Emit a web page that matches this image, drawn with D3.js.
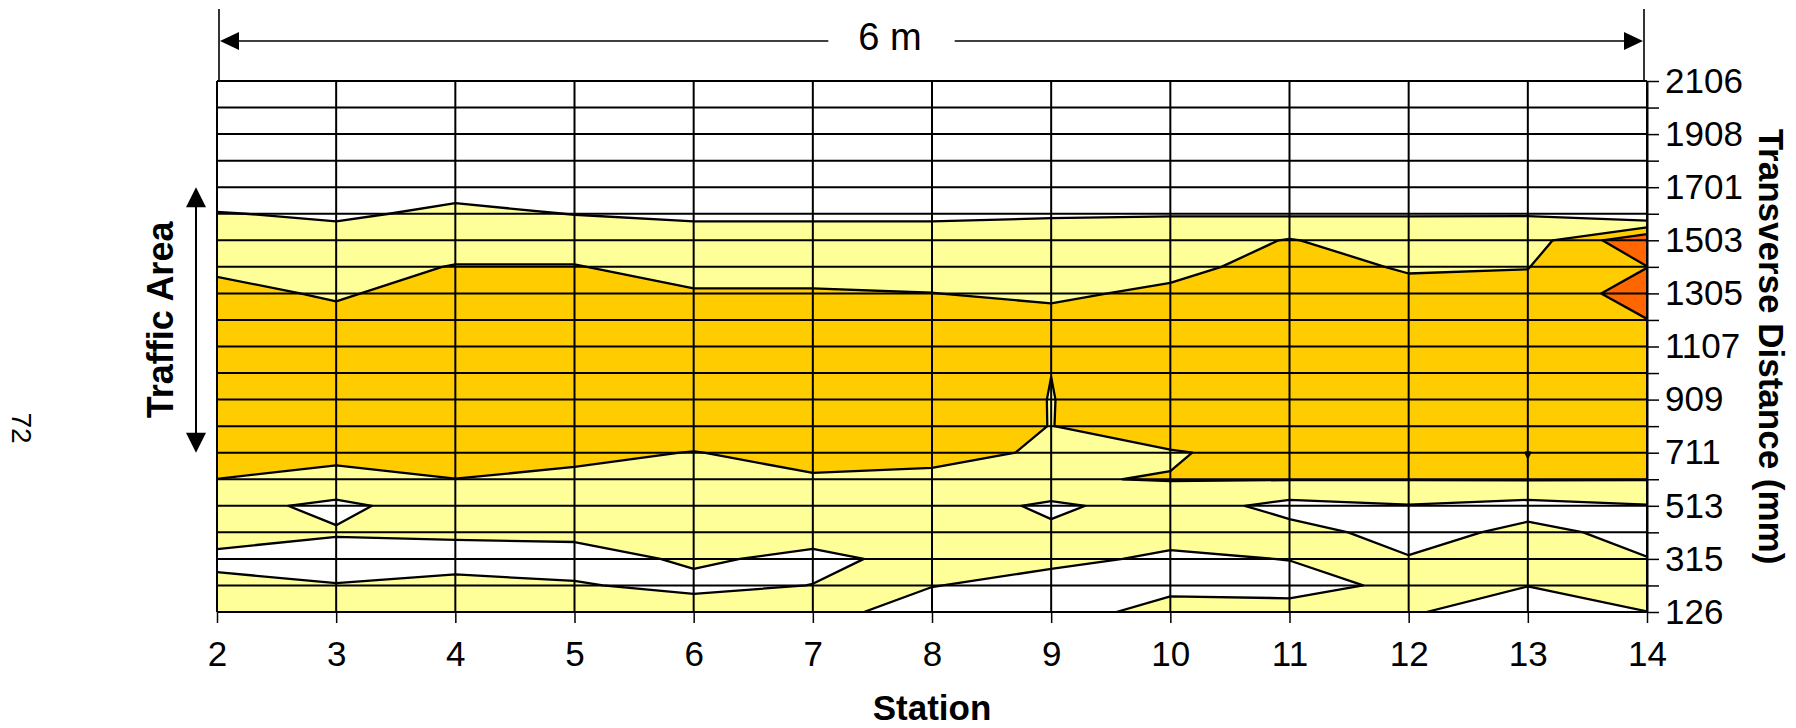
<!DOCTYPE html>
<html>
<head>
<meta charset="utf-8">
<script src="https://cdn.jsdelivr.net/npm/d3@7"></script>
<style>
  body { margin: 0; background: #fff; }
  svg { display: block; }
  text { font-family: "Liberation Sans", Arial, sans-serif; fill: #000; }
</style>
</head>
<body>
<svg id="chart" width="1796" height="728"></svg>
<script>
// Stations along the road (x) and the transverse offset labels (every other row)
const stations = [2, 3, 4, 5, 6, 7, 8, 9, 10, 11, 12, 13, 14];
const transverseLabels = ['126', '315', '513', '711', '909', '1107', '1305', '1503', '1701', '1908', '2106'];
const trafficArea = ['711', '1701'];

// Surface values for each station, listed from 126 mm (first) up to 2106 mm (last)
const st2  = [1.4, 1.3, 0.7, 1.51, 1.4, 1.99, 2.6, 2.5, 2.5, 2.5, 2.5, 2.5, 2.3, 1.82, 1.5, 1.05, 0.3, 0.2, 0.2, 0.2, 0.2];
const st3  = [1.4, 1.05, 0.5, 1.1, 0.73, 1.9, 2.09, 2.6, 2.5, 2.5, 2.5, 2.3, 1.87, 1.6, 1.4, 0.84, 0.3, 0.2, 0.2, 0.2, 0.2];
const st4  = [1.4, 1.2, 0.72, 1.11, 1.63, 1.99, 2.5, 2.5, 2.5, 2.5, 2.5, 2.5, 2.5, 2.05, 1.5, 1.2, 0.7, 0.2, 0.2, 0.2, 0.2];
const st5  = [1.4, 1.1, 0.51, 1.28, 1.6, 1.8, 2.23, 2.6, 2.5, 2.5, 2.5, 2.5, 2.5, 2.05, 1.5, 0.98, 0.3, 0.2, 0.2, 0.2, 0.2];
const st6  = [1.7, 0.68, 1.19, 1.5, 1.6, 1.8, 1.97, 2.6, 2.5, 2.5, 2.5, 2.5, 2.1, 1.57, 1.4, 0.84, 0.3, 0.2, 0.2, 0.2, 0.2];
const st7  = [1.6, 1.02, 0.7, 1.5, 1.6, 1.9, 2.32, 2.6, 2.5, 2.5, 2.5, 2.5, 2.1, 1.57, 1.4, 0.84, 0.3, 0.2, 0.2, 0.2, 0.2];
const st8  = [0.2, 1.05, 1.4, 1.6, 1.6, 1.74, 2.35, 2.6, 2.8, 2.5, 2.5, 2.5, 2.01, 1.6, 1.4, 0.84, 0.3, 0.2, 0.2, 0.2, 0.2];
const st9  = [0.3, 0.5, 1.3, 1.2, 0.8, 1.94, 1.85, 1.98, 1.97, 2.005, 2.5, 2.3, 1.82, 1.6, 1.4, 0.92, 0.3, 0.2, 0.2, 0.2, 0.2];
const st10 = [1.58, 0.6, 0.8, 1.4, 1.5, 2.04, 1.91, 2.7, 2.8, 2.5, 2.5, 2.5, 2.2, 1.7, 1.4, 0.956, 0.3, 0.2, 0.2, 0.2, 0.2];
const st11 = [1.5, 0.53, 1.03, 1.3, 0.7, 2.04, 2.4, 2.5, 2.5, 2.5, 2.5, 2.5, 2.5, 2.4, 2.06, 0.88, 0.3, 0.2, 0.2, 0.2, 0.2];
const st12 = [1.1, 1.29, 1.05, 0.69, 0.95, 2.04, 2.5, 2.5, 2.5, 2.5, 2.5, 2.5, 2.3, 1.9, 1.4, 0.956, 0.3, 0.2, 0.2, 0.2, 0.2];
const st13 = [0.43, 1.02, 1.4, 1.2, 0.7, 2.05, 1.99, 2.5, 2.5, 2.5, 2.5, 2.5, 2.2, 1.98, 1.5, 0.95, 0.3, 0.2, 0.2, 0.2, 0.2];
const st14 = [0.99, 1.4, 1.02, 0.77, 0.95, 2.03, 2.5, 2.5, 2.5, 2.5, 2.5, 2.98, 3.5, 2.98, 3.9, 0.0, 0.2, 0.2, 0.2, 0.2, 0.2];

// Band boundaries and fills
const bandLevels = [1, 2, 3];
const bandColors = ['#FFFF99', '#FFCC00', '#FF6600'];

const columns = [st2, st3, st4, st5, st6, st7, st8, st9, st10, st11, st12, st13, st14];
const nx = columns.length;
const ny = columns[0].length;

const svg = d3.select('#chart');
const plot = { left: 217, right: 1647, top: 81, bottom: 612 };

const x = d3.scaleLinear().domain([stations[0], stations[nx - 1]]).range([plot.left, plot.right]);
const y = d3.scaleLinear().domain([0, ny - 1]).range([plot.bottom, plot.top]);
const labelRow = lbl => transverseLabels.indexOf(lbl) * 2;

// Grid in row-major order, first row = top of the chart
const grid = new Array(nx * ny);
for (let j = 0; j < ny; j++) {
  for (let i = 0; i < nx; i++) grid[j * nx + i] = columns[i][ny - 1 - j];
}

const bands = d3.contours().size([nx, ny]).thresholds(bandLevels)(grid);
const toScreen = d3.geoTransform({
  point(px, py) {
    this.stream.point(x(stations[0] + px - 0.5), y(ny - 1 - (py - 0.5)));
  }
});
const path = d3.geoPath(toScreen);

svg.append('clipPath').attr('id', 'plot-clip')
  .append('rect')
  .attr('x', plot.left).attr('y', plot.top)
  .attr('width', plot.right - plot.left).attr('height', plot.bottom - plot.top);

const surface = svg.append('g').attr('clip-path', 'url(#plot-clip)');
surface.selectAll('path.band')
  .data(bands)
  .join('path')
  .attr('class', 'band')
  .attr('d', path)
  .attr('fill', (d, i) => bandColors[i])
  .attr('stroke', '#000')
  .attr('stroke-width', 2.3)
  .attr('stroke-linejoin', 'round');

// Gridlines
const gridG = svg.append('g').attr('stroke', '#000').attr('stroke-width', 2);
gridG.selectAll('line.h')
  .data(d3.range(ny))
  .join('line')
  .attr('x1', x(stations[0])).attr('x2', x(stations[nx - 1]))
  .attr('y1', d => y(d)).attr('y2', d => y(d));
gridG.selectAll('line.v')
  .data(stations)
  .join('line')
  .attr('x1', d => x(d)).attr('x2', d => x(d))
  .attr('y1', y(0)).attr('y2', y(ny - 1));

// Station axis
const xAxis = svg.append('g')
  .attr('transform', `translate(0,${plot.bottom})`)
  .call(d3.axisBottom(x).tickValues(stations).tickSize(11).tickSizeOuter(0).tickPadding(18).tickFormat(d3.format('d')));
xAxis.select('.domain').remove();
xAxis.selectAll('line').attr('stroke', '#000').attr('stroke-width', 1.5);
xAxis.selectAll('text').attr('font-size', 35).attr('font-family', '"Liberation Sans", Arial, sans-serif');

// Transverse distance axis on the right
const yAxis = svg.append('g')
  .attr('transform', `translate(${plot.right},0)`)
  .call(d3.axisRight(y).tickValues(d3.range(ny)).tickSize(12).tickSizeOuter(0).tickPadding(6)
    .tickFormat(i => (i % 2 === 0 ? transverseLabels[i / 2] : '')));
yAxis.select('.domain').attr('stroke', '#000').attr('stroke-width', 2);
yAxis.selectAll('line').attr('stroke', '#000').attr('stroke-width', 1.5);
yAxis.selectAll('text').attr('font-size', 35).attr('font-family', '"Liberation Sans", Arial, sans-serif');

// Axis titles
svg.append('text')
  .attr('x', (plot.left + plot.right) / 2).attr('y', 720)
  .attr('text-anchor', 'middle')
  .attr('font-size', 35).attr('font-weight', 'bold')
  .text('Station');

svg.append('text')
  .attr('transform', `translate(1759,${(plot.top + plot.bottom) / 2}) rotate(90)`)
  .attr('text-anchor', 'middle')
  .attr('font-size', 35).attr('font-weight', 'bold')
  .text('Transverse Distance (mm)');

// Overall width dimension: 6 m between the first and last station
const dimY = 41;
const dimL = x(stations[0]) + 2;
const dimR = x(stations[nx - 1]) - 3;
const dim = svg.append('g').attr('stroke', '#000').attr('stroke-width', 1.6);
dim.append('line').attr('x1', dimL).attr('x2', dimL).attr('y1', 9).attr('y2', plot.top);
dim.append('line').attr('x1', dimR).attr('x2', dimR).attr('y1', 9).attr('y2', plot.top);
const dimLabel = svg.append('text')
  .attr('x', 890).attr('y', 50)
  .attr('text-anchor', 'middle')
  .attr('font-size', 38)
  .text('6 m');
const lw = dimLabel.node().getComputedTextLength();
dim.append('line').attr('x1', dimL + 4).attr('x2', 890 - lw / 2 - 30).attr('y1', dimY).attr('y2', dimY);
dim.append('line').attr('x1', 890 + lw / 2 + 33).attr('x2', dimR - 4).attr('y1', dimY).attr('y2', dimY);
svg.append('path')
  .attr('d', `M${dimL + 1},${dimY} l19,-9 v18 z`)
  .attr('fill', '#000');
svg.append('path')
  .attr('d', `M${dimR - 1},${dimY} l-19,-9 v18 z`)
  .attr('fill', '#000');

// Traffic area marker
const taX = 196;
const taTop = y(labelRow(trafficArea[1]));
const taBot = y(labelRow(trafficArea[0]));
svg.append('line')
  .attr('x1', taX).attr('x2', taX)
  .attr('y1', taTop + 10).attr('y2', taBot - 10)
  .attr('stroke', '#000').attr('stroke-width', 2);
svg.append('path')
  .attr('d', `M${taX},${taTop} l-10,20 h20 z`)
  .attr('fill', '#000');
svg.append('path')
  .attr('d', `M${taX},${taBot} l-10,-20 h20 z`)
  .attr('fill', '#000');
svg.append('text')
  .attr('transform', `translate(173,${(taTop + taBot) / 2}) rotate(-90)`)
  .attr('text-anchor', 'middle')
  .attr('font-size', 36).attr('font-weight', 'bold')
  .text('Traffic Area');

// Page number
svg.append('text')
  .attr('transform', 'translate(12,428) rotate(90)')
  .attr('text-anchor', 'middle')
  .attr('font-size', 28)
  .text('72');
</script>
</body>
</html>
